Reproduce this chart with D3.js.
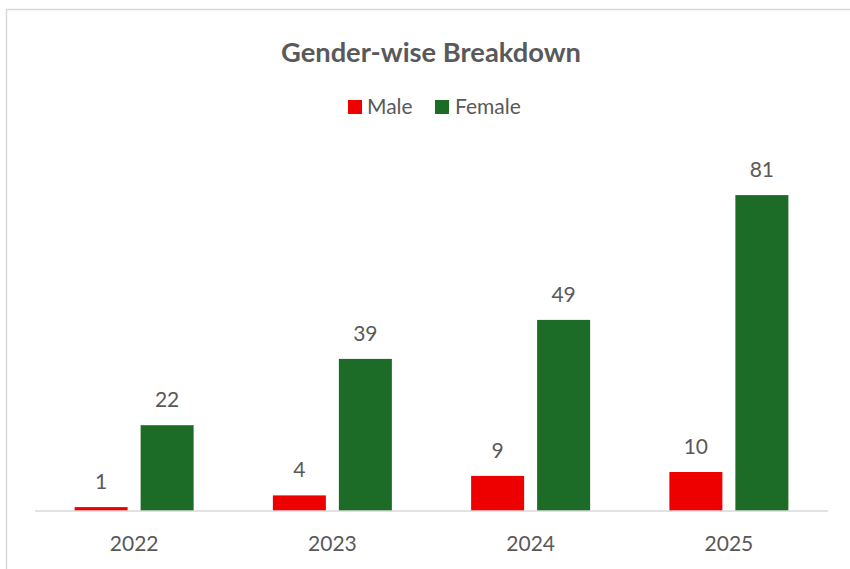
<!DOCTYPE html>
<html>
<head>
<meta charset="utf-8">
<script src="https://cdn.jsdelivr.net/npm/d3@7"></script>
<style>
  html, body { margin: 0; padding: 0; background: #fff; }
  svg { display: block; }
  text { font-family: Lato, "Open Sans", sans-serif; fill: #595959; }
</style>
</head>
<body>
<svg id="chart" width="850" height="569"></svg>
<script>
// Yearly counts by gender
const years = ["2022", "2023", "2024", "2025"];
const series = ["Male", "Female"];
const maleValues = [1, 4, 9, 10];
const femaleValues = [22, 39, 49, 81];
const seriesColors = ["#EE0000", "#1C6B27"];
const titleText = "Gender-wise Breakdown";

const svg = d3.select("#chart");
const W = 850, H = 569;

// outer frame (continues past the right and bottom edges)
svg.append("rect")
  .attr("x", 6.5).attr("y", 9.5)
  .attr("width", W + 40).attr("height", H + 40)
  .attr("fill", "#fff")
  .attr("stroke", "#D9D9D9").attr("stroke-width", 1.5);

const plot = { left: 35, right: 828, top: 160, bottom: 511 };

const x0 = d3.scaleBand().domain(years).range([plot.left, plot.right]).padding(0);
const groupWidth = 119;
const x1 = d3.scaleBand().domain(series)
  .range([(x0.bandwidth() - groupWidth) / 2, (x0.bandwidth() + groupWidth) / 2])
  .paddingInner(13 / 66).paddingOuter(0);
const y = d3.scaleLinear().domain([0, 90]).range([plot.bottom, plot.top]);
const color = d3.scaleOrdinal().domain(series).range(seriesColors);

const rows = years.map((yr, i) => ({
  year: yr,
  values: [
    { key: "Male", value: maleValues[i] },
    { key: "Female", value: femaleValues[i] }
  ]
}));

// title
svg.append("text")
  .attr("x", 431).attr("y", 62)
  .attr("text-anchor", "middle")
  .style("font-weight", "bold")
  .style("font-size", "27.3px")
  .text(titleText);

// legend
const legendItems = [
  { key: "Male", sx: 348, tx: 367 },
  { key: "Female", sx: 435, tx: 455 }
];
const lg = svg.append("g");
legendItems.forEach(it => {
  lg.append("rect")
    .attr("x", it.sx).attr("y", 100)
    .attr("width", 14).attr("height", 14)
    .attr("fill", color(it.key));
  lg.append("text")
    .attr("x", it.tx).attr("y", 114)
    .style("font-size", "21px")
    .text(it.key);
});

// bars
const groups = svg.append("g").selectAll("g")
  .data(rows).join("g")
  .attr("transform", d => `translate(${x0(d.year)},0)`);

groups.selectAll("rect")
  .data(d => d.values).join("rect")
  .attr("x", d => x1(d.key))
  .attr("y", d => y(d.value))
  .attr("width", x1.bandwidth())
  .attr("height", d => y(0) - y(d.value))
  .attr("fill", d => color(d.key));

// value labels
groups.selectAll("text.value")
  .data(d => d.values).join("text")
  .attr("class", "value")
  .attr("x", d => x1(d.key) + x1.bandwidth() / 2)
  .attr("y", d => y(d.value) - 18)
  .attr("text-anchor", "middle")
  .style("font-size", "21px")
  .text(d => d.value);

// category axis
const axis = svg.append("g")
  .attr("transform", `translate(0,${plot.bottom})`)
  .call(d3.axisBottom(x0).tickSize(0).tickPadding(0));
axis.select(".domain")
  .attr("stroke", "#D9D9D9").attr("stroke-width", 1.5)
  .attr("d", `M${plot.left},0H${plot.right}`);
axis.selectAll(".tick text")
  .attr("y", 40).attr("dy", null)
  .style("font-size", "21px")
  .style("font-family", "Lato, 'Open Sans', sans-serif")
  .attr("fill", "#595959");
</script>
</body>
</html>
